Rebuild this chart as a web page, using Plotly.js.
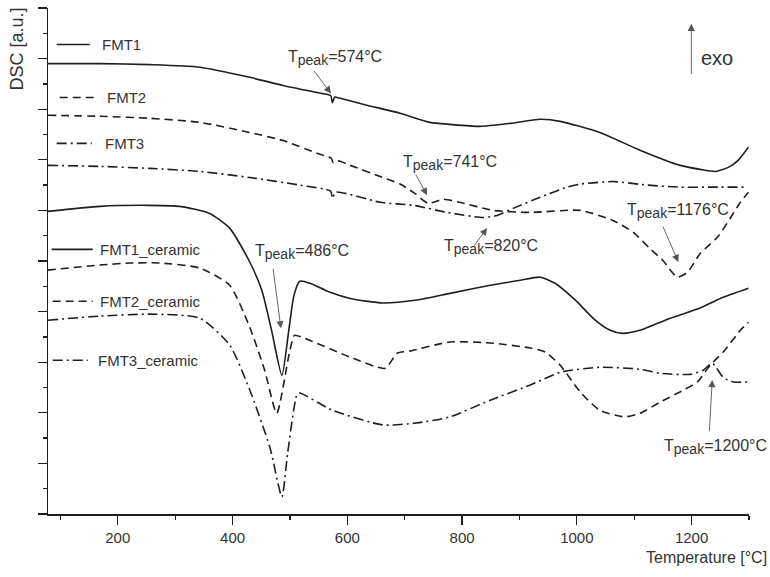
<!DOCTYPE html>
<html>
<head>
<meta charset="utf-8">
<script src="https://cdn.plot.ly/plotly-3.0.1.min.js"></script>
<style>html,body{margin:0;padding:0;background:#fff;}#chart{width:770px;height:577px;}</style>
</head>
<body>
<div id="chart"></div>
<script>
// Temperature [°C] and DSC [a.u.] values
const T_FMT1 = [78,169,256,343,430,488,547,571,574,578,586,634,692,744,779,831,884,936,971,1040,1110,1180,1215,1241,1264,1281,1299];
const DSC_FMT1 = [8.90,8.90,8.88,8.83,8.63,8.47,8.33,8.27,8.13,8.24,8.22,8.08,7.92,7.74,7.70,7.66,7.72,7.80,7.76,7.54,7.19,6.89,6.81,6.77,6.85,6.99,7.25];

const T_FMT2 = [78,169,256,343,430,488,547,572,575,581,605,662,692,717,741,767,796,854,919,1006,1063,1098,1127,1150,1175,1193,1215,1245,1267,1285,1299];
const DSC_FMT2 = [7.88,7.86,7.82,7.74,7.54,7.38,7.13,7.03,6.95,6.99,6.89,6.65,6.52,6.34,6.14,6.22,6.16,6.00,5.96,6.00,5.80,5.57,5.25,5.01,4.68,4.78,5.15,5.47,5.84,6.16,6.36];

const T_FMT3 = [78,169,256,343,430,517,571,574,580,657,715,774,836,861,889,936,983,1006,1063,1122,1180,1238,1297];
const DSC_FMT3 = [6.89,6.87,6.83,6.77,6.65,6.50,6.38,6.24,6.36,6.16,6.10,5.96,5.86,5.90,6.04,6.26,6.46,6.52,6.57,6.50,6.46,6.46,6.46];

const T_FMT1c = [78,169,256,308,360,395,430,451,468,486,498,507,517,535,570,605,662,721,779,849,902,936,962,997,1032,1058,1079,1110,1163,1215,1250,1299];
const DSC_FMT1c = [5.98,6.08,6.10,6.08,5.94,5.65,4.98,4.42,3.63,2.74,3.63,4.32,4.60,4.56,4.38,4.26,4.17,4.23,4.36,4.52,4.62,4.68,4.56,4.23,3.83,3.63,3.57,3.63,3.87,4.07,4.26,4.46];

const T_FMT2c = [78,169,221,273,343,395,430,456,477,499,508,522,605,666,687,709,779,849,919,945,971,1006,1040,1084,1110,1145,1186,1210,1232,1255,1285,1299];
const DSC_FMT2c = [4.82,4.92,4.96,4.96,4.86,4.52,3.69,2.84,1.99,3.18,3.53,3.49,3.10,2.88,3.18,3.22,3.40,3.38,3.28,3.20,2.94,2.41,2.05,1.92,1.99,2.21,2.45,2.61,2.94,3.20,3.63,3.79];

const T_FMT3c = [78,169,256,343,395,430,465,486,496,512,517,574,662,721,779,849,919,971,1040,1110,1145,1198,1220,1236,1255,1273,1297];
const DSC_FMT3c = [3.83,3.91,3.95,3.87,3.34,2.45,1.32,0.34,1.20,2.35,2.39,2.05,1.76,1.80,1.92,2.25,2.55,2.80,2.90,2.86,2.78,2.76,2.84,2.98,2.70,2.61,2.61];

const seriesNames = ['FMT1','FMT2','FMT3','FMT1_ceramic','FMT2_ceramic','FMT3_ceramic'];
const xTickVals = [200,400,600,800,1000,1200];
const peakLabels = ['574','741','820','1176','486','1200'];

const INK = '#1e1e1e';
const DASH = '8px,5px';
const DASHDOT = '10px,4px,2px,4px';
const styles = ['solid', DASH, DASHDOT, 'solid', DASH, DASHDOT];
const xs = [T_FMT1,T_FMT2,T_FMT3,T_FMT1c,T_FMT2c,T_FMT3c];
const ys = [DSC_FMT1,DSC_FMT2,DSC_FMT3,DSC_FMT1c,DSC_FMT2c,DSC_FMT3c];

const traces = seriesNames.map((n,i)=>({
  type:'scatter', mode:'lines', name:n, x:xs[i], y:ys[i],
  line:{color:INK, width:1.6, dash:styles[i], shape:'spline', smoothing:0.6},
  showlegend:false, hoverinfo:'skip'
}));

const FONT = 'Liberation Sans, Arial, sans-serif';
const TXT = '#333';

// legend samples (paper coords)
const leg = [
  {x0:0.0124,x1:0.0596,tx:0.0738,y:0.928},
  {x0:0.0167,x1:0.0666,tx:0.0809,y:0.823},
  {x0:0.0124,x1:0.0624,tx:0.0781,y:0.7325},
  {x0:0.0053,x1:0.0638,tx:0.0709,y:0.523},
  {x0:0.0067,x1:0.0638,tx:0.0709,y:0.4205},
  {x0:0.0067,x1:0.0567,tx:0.0681,y:0.304}
];
const shapes = leg.map((l,i)=>({type:'line',xref:'paper',yref:'paper',x0:l.x0,x1:l.x1,y0:l.y,y1:l.y,
  line:{color:INK,width:1.6,dash:styles[i]}}));
const annotations = leg.map((l,i)=>({xref:'paper',yref:'paper',x:l.tx,y:l.y,xanchor:'left',yanchor:'middle',
  text:seriesNames[i],showarrow:false,font:{family:FONT,size:15,color:TXT}}));

function arrow(x,y,ax,ay){
  return {x:x,y:y,ax:ax,ay:ay,xref:'x',yref:'y',text:'',showarrow:true,arrowhead:2,arrowsize:1.6,arrowwidth:0.9,arrowcolor:'#555'};
}
function label(x,y,t,size){
  return {x:x,y:y,xref:'x',yref:'y',text:t,showarrow:false,xanchor:'center',yanchor:'middle',font:{family:FONT,size:size||16,color:TXT}};
}
const tp = v => 'T<sub><span style="font-size:14px">peak</span></sub>=' + v + '°C';
annotations.push(
  arrow(571.5,8.31,-18,-24), label(578,9.02,tp(peakLabels[0])),
  arrow(739,6.30,-12,-22), label(779,6.93,tp(peakLabels[1])),
  arrow(843.6,5.65,-14,19), label(851,5.27,tp(peakLabels[2])),
  arrow(1176.8,4.98,-16,-37), label(1177,5.98,tp(peakLabels[3])),
  arrow(484.3,3.67,-8,-61), label(521,5.17,tp(peakLabels[4])),
  arrow(1236,2.65,-3,53), label(1241,1.32,tp(peakLabels[5])),
  arrow(1199.5,9.69,0,52), label(1244,9.02,'exo',20),
  {xref:'paper',yref:'paper',x:1,y:0,xshift:20,yshift:-43,xanchor:'right',yanchor:'middle',text:'Temperature [°C]',showarrow:false,font:{family:FONT,size:16,color:TXT}},
  {xref:'paper',yref:'paper',x:0,y:1,xshift:-32,yshift:2,xanchor:'center',yanchor:'top',textangle:-90,text:'DSC [a.u.]',showarrow:false,font:{family:FONT,size:18,color:TXT}}
);

const layout = {
  width:770, height:577,
  margin:{l:48,r:21,t:7.5,b:63},
  paper_bgcolor:'#fff', plot_bgcolor:'#fff',
  showlegend:false,
  xaxis:{range:[78.4,1300], tickvals:xTickVals, ticktext:xTickVals.map(String), ticks:'outside', ticklen:9, tickwidth:1.3, tickcolor:INK,
    showline:true, linecolor:INK, linewidth:1.5, showgrid:false, zeroline:false,
    tickfont:{family:FONT,size:15,color:TXT},
    minor:{dtick:100, tick0:0, ticks:'outside', ticklen:4, tickwidth:1.3, tickcolor:INK, showgrid:false}},
  yaxis:{range:[0,10], dtick:1, tick0:0, ticks:'outside', ticklen:9, tickwidth:1.3, tickcolor:INK, showticklabels:false,
    showline:true, linecolor:INK, linewidth:1.5, showgrid:false, zeroline:false,
    minor:{dtick:0.5, tick0:0, ticks:'outside', ticklen:4, tickwidth:1.3, tickcolor:INK, showgrid:false}},
  shapes:shapes,
  annotations:annotations
};

Plotly.newPlot('chart', traces, layout, {displayModeBar:false, staticPlot:true});
</script>
</body>
</html>
